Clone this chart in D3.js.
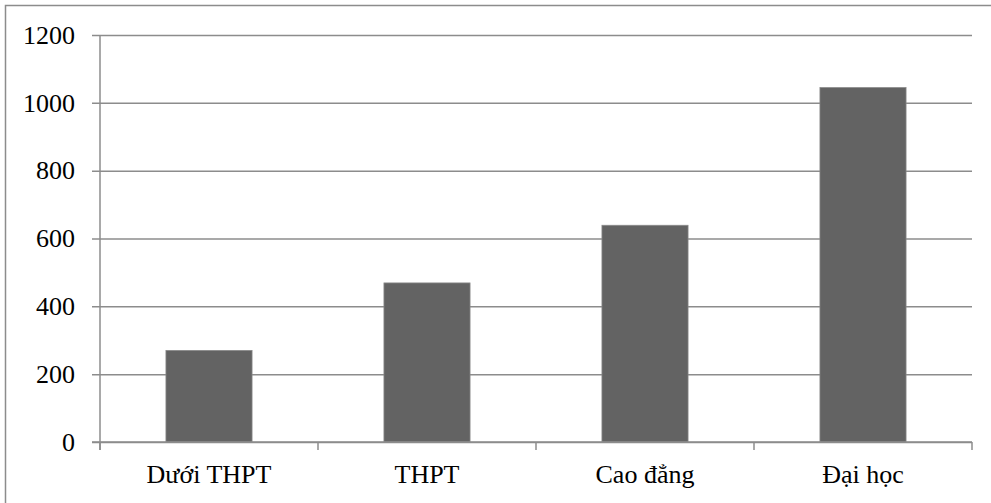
<!DOCTYPE html>
<html>
<head>
<meta charset="utf-8">
<script src="https://cdn.jsdelivr.net/npm/d3@7"></script>
<style>
  html, body { margin: 0; padding: 0; background: #fff; }
  svg { display: block; }
  text { font-family: "Liberation Serif", "Times New Roman", serif; fill: #000; }
</style>
</head>
<body>
<svg id="chart" width="991" height="503"></svg>
<script>
// data
var categories = ['Dưới THPT', 'THPT', 'Cao đẳng', 'Đại học'];
var values = [270, 469, 639, 1045];
var yTicks = [0, 200, 400, 600, 800, 1000, 1200];

var W = 991, H = 503;
var margin = { top: 35, right: 19, bottom: 61, left: 100 };
var plotW = W - margin.left - margin.right,
		plotH = H - margin.top - margin.bottom;

var lineColor = '#8c8c8c';
var barColor = '#636363';
var fontSize = '26px';

var svg = d3.select('#chart');

// outer frame (image is cropped on the right and bottom)
svg.append('rect')
	.attr('x', 5.5).attr('y', 5.5)
	.attr('width', W + 20).attr('height', H + 20)
	.attr('fill', 'none')
	.attr('stroke', lineColor)
	.attr('stroke-width', 1.5);

var g = svg.append('g').attr('transform', 'translate(' + margin.left + ',' + margin.top + ')');

var x = d3.scaleBand()
	.domain(categories)
	.range([0, plotW])
	.paddingInner(0.605)
	.paddingOuter(0.3025);

var y = d3.scaleLinear()
	.domain([0, 1200])
	.range([plotH, 0]);

// gridlines + y ticks
var yAxis = d3.axisLeft(y)
	.tickValues(yTicks)
	.tickSize(-plotW)
	.tickPadding(25)
	.tickFormat(d3.format('d'));

var yg = g.append('g').call(yAxis);
yg.select('.domain').remove();
yg.selectAll('.tick line')
	.attr('x1', -8)
	.attr('stroke', lineColor)
	.attr('stroke-width', 1.5);
yg.selectAll('.tick text')
	.style('font-size', fontSize);

// bars
g.selectAll('rect.bar')
	.data(values)
	.enter().append('rect')
	.attr('class', 'bar')
	.attr('x', function(d, i) { return x(categories[i]); })
	.attr('y', function(d) { return y(d); })
	.attr('width', x.bandwidth())
	.attr('height', function(d) { return plotH - y(d); })
	.attr('fill', barColor)
	.attr('stroke', '#8a8a8a')
	.attr('stroke-width', 0.8);

// y axis line
g.append('line')
	.attr('x1', 0).attr('x2', 0)
	.attr('y1', 0).attr('y2', plotH + 8)
	.attr('stroke', lineColor)
	.attr('stroke-width', 1.5);

// x axis: baseline, category boundary ticks, labels
g.append('line')
	.attr('x1', -8).attr('x2', plotW)
	.attr('y1', plotH).attr('y2', plotH)
	.attr('stroke', lineColor)
	.attr('stroke-width', 1.5);

var step = x.step();
g.selectAll('line.cat-tick')
	.data(d3.range(categories.length + 1))
	.enter().append('line')
	.attr('class', 'cat-tick')
	.attr('x1', function(i) { return i * step; })
	.attr('x2', function(i) { return i * step; })
	.attr('y1', plotH).attr('y2', plotH + 8)
	.attr('stroke', lineColor)
	.attr('stroke-width', 1.5);

g.selectAll('text.cat')
	.data(categories)
	.enter().append('text')
	.attr('class', 'cat')
	.attr('x', function(d) { return x(d) + x.bandwidth() / 2; })
	.attr('y', plotH + 41)
	.attr('text-anchor', 'middle')
	.style('font-size', fontSize)
	.text(function(d) { return d; });
</script>
</body>
</html>
